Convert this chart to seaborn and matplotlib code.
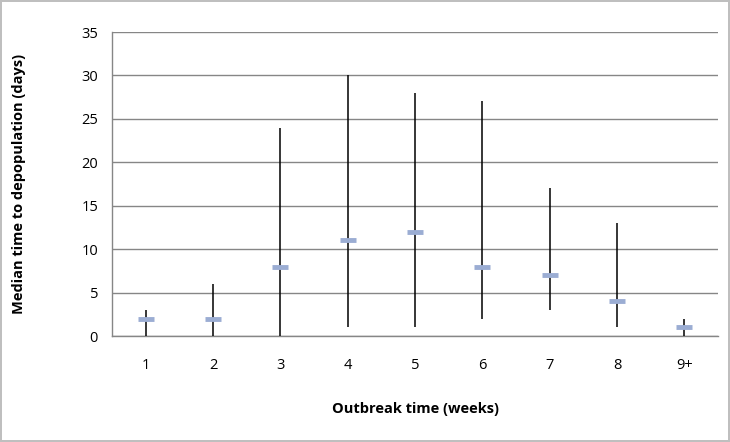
import seaborn as sns
import matplotlib.pyplot as plt
import pandas as pd

# data
weeks = ['1', '2', '3', '4', '5', '6', '7', '8', '9+']
median_days = [2, 2, 8, 11, 12, 8, 7, 4, 1]
min_days = [0, 0, 0, 1, 1, 2, 3, 1, 0]
max_days = [3, 6, 24, 30, 28, 27, 17, 13, 2]

df = pd.DataFrame({'week': weeks, 'median': median_days,
                   'lo': min_days, 'hi': max_days})

sns.set_style('white')
plt.rcParams['font.family'] = ['Open Sans', 'DejaVu Sans']

fig = plt.figure(figsize=(7.3, 4.42), dpi=100)
fig.patch.set_edgecolor('#bfbfbf')
fig.patch.set_linewidth(1.5)
ax = fig.add_axes([0.1534, 0.2398, 0.8302, 0.6878])

ax.vlines(df['week'], df['lo'], df['hi'], color='black', lw=1.1, zorder=3)
sns.scatterplot(data=df, x='week', y='median', marker='_', s=130,
                color='#9badd3', linewidth=3.5, ax=ax, zorder=4, legend=False)

ax.set_xlim(-0.5, 8.5)
ax.set_ylim(0, 35)
ax.set_yticks(range(0, 36, 5))
ax.yaxis.grid(True, color='#868686', lw=1)
ax.set_axisbelow(True)

ax.set_xticks(range(9))
ax.set_xticklabels(weeks)
ax.set_xticks([i - 0.5 for i in range(10)], minor=True)
ax.tick_params(axis='x', which='major', length=0, pad=16, labelsize=10.5,
               labelcolor='black')
ax.tick_params(axis='x', which='minor', length=5, color='#868686', width=1)
ax.tick_params(axis='y', length=5, color='#868686', width=1, labelsize=10.5,
               pad=5, labelcolor='black')

for side in ['top', 'right']:
    ax.spines[side].set_visible(False)
for side in ['left', 'bottom']:
    ax.spines[side].set_color('#868686')
    ax.spines[side].set_linewidth(1)

ax.set_xlabel('Outbreak time (weeks)', fontsize=10.5, fontweight='bold',
              labelpad=21, color='black')
ax.set_ylabel('Median time to depopulation (days)', fontsize=10.5,
              fontweight='bold', labelpad=40, color='black')

plt.savefig('out.png', dpi=100, edgecolor=fig.get_edgecolor())
